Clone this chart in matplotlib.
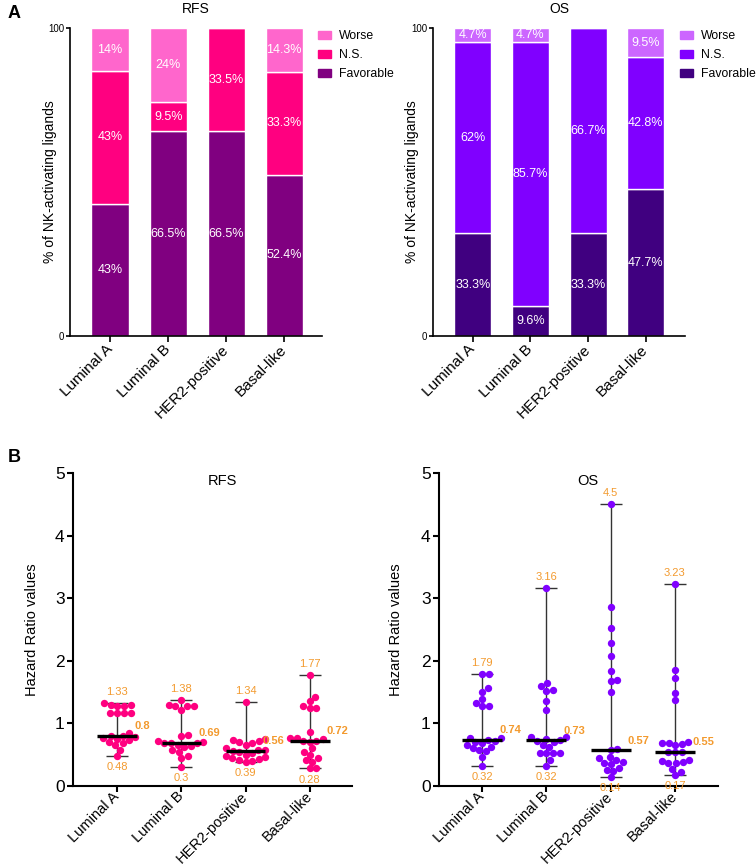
import numpy as np
import matplotlib
matplotlib.use("Agg")
import matplotlib.pyplot as plt
import matplotlib.patches as mpatches

plt.rcParams["font.family"] = ["Liberation Sans", "DejaVu Sans"]

categories = ["Luminal A", "Luminal B", "HER2-positive", "Basal-like"]
legend_labels = ["Worse", "N.S.", "Favorable"]

# panel A: % of NK-activating ligands
rfs_favorable = [43, 66.5, 66.5, 52.4]
rfs_ns = [43, 9.5, 33.5, 33.3]
rfs_worse = [14, 24, 0, 14.3]
rfs_fav_text = ["43%", "66.5%", "66.5%", "52.4%"]
rfs_ns_text = ["43%", "9.5%", "33.5%", "33.3%"]
rfs_worse_text = ["14%", "24%", "", "14.3%"]

os_favorable = [33.3, 9.6, 33.3, 47.7]
os_ns = [62, 85.7, 66.7, 42.8]
os_worse = [4.7, 4.7, 0, 9.5]
os_fav_text = ["33.3%", "9.6%", "33.3%", "47.7%"]
os_ns_text = ["62%", "85.7%", "66.7%", "42.8%"]
os_worse_text = ["4.7%", "4.7%", "", "9.5%"]

# panel B: hazard ratio values
hr_rfs_luminal_a = [1.33, 1.30, 1.29, 1.27, 1.27, 1.17, 1.17, 1.16, 1.16, 0.85, 0.80,
                    0.80, 0.78, 0.77, 0.75, 0.73, 0.70, 0.68, 0.65, 0.58, 0.48]
hr_rfs_luminal_b = [1.38, 1.30, 1.28, 1.27, 1.27, 1.22, 0.82, 0.80, 0.72, 0.71, 0.69,
                    0.69, 0.68, 0.66, 0.64, 0.62, 0.57, 0.55, 0.48, 0.45, 0.30]
hr_rfs_her2 = [1.34, 0.75, 0.73, 0.72, 0.70, 0.68, 0.66, 0.60, 0.58, 0.57, 0.56,
               0.55, 0.52, 0.50, 0.48, 0.46, 0.45, 0.43, 0.42, 0.40, 0.39]
hr_rfs_basal = [1.77, 1.42, 1.36, 1.28, 1.25, 1.24, 0.87, 0.77, 0.76, 0.75, 0.72,
                0.72, 0.70, 0.60, 0.55, 0.50, 0.45, 0.41, 0.38, 0.28, 0.28]

hr_os_luminal_a = [1.79, 1.79, 1.56, 1.50, 1.39, 1.33, 1.27, 1.27, 0.76, 0.76, 0.74,
                   0.72, 0.70, 0.68, 0.66, 0.63, 0.60, 0.58, 0.56, 0.47, 0.32]
hr_os_luminal_b = [3.16, 1.64, 1.59, 1.54, 1.52, 1.36, 1.22, 0.78, 0.78, 0.75, 0.73,
                   0.72, 0.70, 0.66, 0.62, 0.53, 0.53, 0.52, 0.52, 0.41, 0.32]
hr_os_her2 = [4.5, 2.86, 2.52, 2.28, 2.08, 1.83, 1.70, 1.68, 1.50, 0.59, 0.57,
              0.46, 0.44, 0.42, 0.38, 0.36, 0.35, 0.29, 0.25, 0.24, 0.14]
hr_os_basal = [3.23, 1.85, 1.72, 1.48, 1.37, 0.70, 0.69, 0.69, 0.67, 0.65, 0.55,
               0.55, 0.54, 0.42, 0.40, 0.38, 0.36, 0.36, 0.27, 0.23, 0.17]

RFS_COLORS = ["#800080", "#FF0080", "#FF66CC"]  # favorable, n.s., worse
OS_COLORS = ["#400080", "#8000FF", "#CC66FF"]
ORANGE = "#F39A2E"

W, H = 756, 868
fig = plt.figure(figsize=(W / 100, H / 100), dpi=100)


def px_axes(x0, y0, x1, y1):
	return fig.add_axes([x0 / W, 1 - y1 / H, (x1 - x0) / W, (y1 - y0) / H])


def rotated_labels(ax, size):
	ax.set_xticks(range(len(categories)))
	ax.set_xticklabels(categories, rotation=45, ha="right", va="center",
					   rotation_mode="anchor", fontsize=size)


def stacked_panel(ax, fav, ns, worse, fav_t, ns_t, worse_t, colors, title, xlim, legend_x, label_x):
	x = np.arange(len(categories))
	fav = np.array(fav)
	ns = np.array(ns)
	worse = np.array(worse)
	kw = dict(width=0.64, edgecolor="white", linewidth=1)
	ax.bar(x, fav, color=colors[0], **kw)
	ax.bar(x, ns, bottom=fav, color=colors[1], **kw)
	ax.bar(x, worse, bottom=fav + ns, color=colors[2], **kw)
	for i in range(len(x)):
		for val, bottom, txt in [(fav[i], 0, fav_t[i]), (ns[i], fav[i], ns_t[i]),
								 (worse[i], fav[i] + ns[i], worse_t[i])]:
			if txt:
				ax.text(x[i], bottom + val / 2, txt, color="white", fontsize=9,
						ha="center", va="center")
	ax.set_xlim(*xlim)
	ax.set_ylim(0, 100)
	ax.set_yticks([0, 100])
	ax.set_yticklabels(["0", "100"], fontsize=7)
	rotated_labels(ax, 11)
	ax.set_ylabel("% of NK-activating ligands", fontsize=10)
	ax.yaxis.set_label_coords(label_x, 0.5)
	ax.set_title(title, fontsize=10, pad=11)
	for s in ["top", "right"]:
		ax.spines[s].set_visible(False)
	for s in ["left", "bottom"]:
		ax.spines[s].set_linewidth(1.2)
	ax.tick_params(axis="y", length=3, width=1.2, pad=1)
	ax.tick_params(axis="x", length=4, width=1.2, pad=4)
	handles = [mpatches.Patch(color=colors[2], label=legend_labels[0]),
			   mpatches.Patch(color=colors[1], label=legend_labels[1]),
			   mpatches.Patch(color=colors[0], label=legend_labels[2])]
	ax.legend(handles=handles, loc="upper left", bbox_to_anchor=(legend_x, 0.992),
			  frameon=False, fontsize=8.8, handlelength=1.05, handleheight=0.65,
			  handletextpad=0.65, labelspacing=0.55, borderaxespad=0, borderpad=0)


def swarm_offsets(values, d_px, xscale, yscale):
	values = np.asarray(values, dtype=float)
	order = np.argsort(values)
	placed = []
	offs = np.zeros(len(values))
	for i in order:
		y = values[i] * yscale
		cands = [0.0]
		for px, py in placed:
			dy = abs(py - y)
			if dy < d_px:
				dx = np.sqrt(d_px ** 2 - dy ** 2)
				cands += [px + dx, px - dx]
		cands.sort(key=abs)
		chosen = 0.0
		for c in cands:
			if all((c - px) ** 2 + (y - py) ** 2 >= d_px ** 2 - 1e-6 for px, py in placed):
				chosen = c
				break
		placed.append((chosen, y))
		offs[i] = chosen / xscale
	return offs


def hr_panel(ax, groups, color, title, xlim, ax_w_px, label_x):
	ax.set_xlim(*xlim)
	ax.set_ylim(0, 5)
	xscale = ax_w_px / (xlim[1] - xlim[0])
	yscale = 313 / 5
	for i, vals in enumerate(groups):
		vals = np.array(vals)
		med = np.median(vals)
		lo, hi = vals.min(), vals.max()
		ax.errorbar([i], [med], yerr=[[med - lo], [hi - med]], fmt="none",
					ecolor="#333333", elinewidth=1, capsize=8, capthick=1, zorder=2)
		offs = swarm_offsets(vals, 6.8, xscale, yscale)
		ax.scatter(i + offs, vals, s=28, color=color, linewidths=0, zorder=3)
		ax.hlines(med, i - 0.31, i + 0.31, color="black", linewidth=2.4, zorder=4)
		ax.annotate(f"{hi:g}", (i, hi), xytext=(0, 8), textcoords="offset points",
					ha="center", va="center", color=ORANGE, fontsize=8)
		ax.annotate(f"{lo:g}", (i, lo), xytext=(0, -8), textcoords="offset points",
					ha="center", va="center", color=ORANGE, fontsize=8)
		ax.annotate(f"{med:g}", (i + 0.31, med), xytext=(-2, 7), textcoords="offset points",
					ha="left", va="center", color=ORANGE, fontsize=8, fontweight="bold")
	rotated_labels(ax, 10.5)
	ax.set_yticks(range(6))
	ax.tick_params(axis="y", labelsize=12.5, length=4, width=1.5, pad=2)
	ax.tick_params(axis="x", length=4, width=1.5, pad=2)
	ax.set_ylabel("Hazard Ratio values", fontsize=10.5)
	ax.yaxis.set_label_coords(label_x, 0.5)
	ax.text(0.534, 0.975, title, transform=ax.transAxes, ha="center", va="center", fontsize=10.5)
	for s in ["top", "right"]:
		ax.spines[s].set_visible(False)
	for s in ["left", "bottom"]:
		ax.spines[s].set_linewidth(1.5)


ax1 = px_axes(70, 28, 322, 336)
stacked_panel(ax1, rfs_favorable, rfs_ns, rfs_worse, rfs_fav_text, rfs_ns_text,
			  rfs_worse_text, RFS_COLORS, "RFS", (-0.69, 3.65), 0.984, -0.052)
ax2 = px_axes(433, 28, 685, 336)
stacked_panel(ax2, os_favorable, os_ns, os_worse, os_fav_text, os_ns_text,
			  os_worse_text, OS_COLORS, "OS", (-0.69, 3.68), 0.98, -0.056)

ax3 = px_axes(73, 473, 352, 786)
hr_panel(ax3, [hr_rfs_luminal_a, hr_rfs_luminal_b, hr_rfs_her2, hr_rfs_basal],
		 "#FF0080", "RFS", (-0.69, 3.66), 279, -0.122)
ax4 = px_axes(439, 473, 718, 786)
hr_panel(ax4, [hr_os_luminal_a, hr_os_luminal_b, hr_os_her2, hr_os_basal],
		 "#8000FF", "OS", (-0.67, 3.67), 279, -0.129)

fig.text(8 / W, 1 - 14 / H, "A", fontsize=13, fontweight="bold", ha="left", va="center")
fig.text(8 / W, 1 - 458 / H, "B", fontsize=13, fontweight="bold", ha="left", va="center")

fig.savefig("out.png", dpi=100)
